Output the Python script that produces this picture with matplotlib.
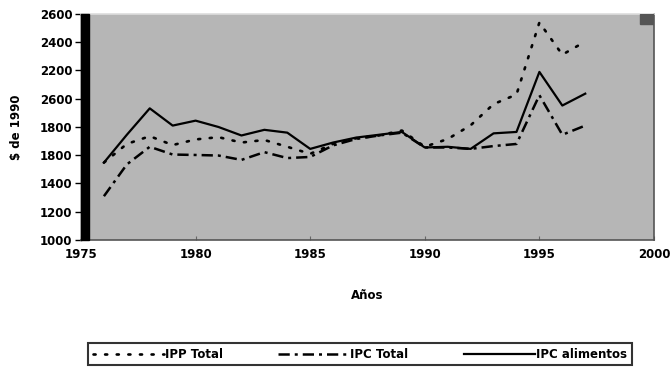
import numpy as np
import matplotlib
matplotlib.use("Agg")
import matplotlib.pyplot as plt
from matplotlib.patches import Rectangle

# annual series, $ de 1990
years = list(range(1976, 1998))
ipp_total = [1548, 1680, 1735, 1672, 1712, 1728, 1690, 1708, 1660, 1610, 1680,
             1720, 1740, 1775, 1660, 1715, 1812, 1962, 2030, 2540, 2312, 2405]
ipc_total = [1310, 1535, 1660, 1605, 1602, 1598, 1567, 1622, 1580, 1588, 1670,
             1715, 1740, 1760, 1655, 1655, 1645, 1665, 1680, 2025, 1745, 1810]
ipc_alimentos = [1548, 1745, 1932, 1810, 1845, 1800, 1740, 1780, 1760, 1645, 1690,
                 1725, 1745, 1765, 1655, 1660, 1645, 1755, 1765, 2190, 1952, 2036]

yticks = [1000, 1200, 1400, 1600, 1800, 2000, 2200, 2400, 2600]
# tick labels as printed in the source scan
ytick_labels = ["1000", "1200", "1400", "1800", "1800", "2600", "2200", "2400", "2600"]
xticks = [1975, 1980, 1985, 1990, 1995, 2000]

plt.rcParams['font.family'] = ['DejaVu Sans']
plt.rcParams['font.weight'] = 'bold'

fig = plt.figure(figsize=(6.72, 3.67), dpi=100)
ax = fig.add_axes([81/672, 1 - 240/367, (654 - 81)/672, (240 - 14)/367])
ax.set_facecolor('#b6b6b6')

ax.plot(years, ipp_total, color='black', lw=1.9, linestyle=(0, (0.8, 3.6)),
        dash_capstyle='round', label='IPP Total')
ax.plot(years, ipc_total, color='black', lw=1.8, linestyle=(0, (4.5, 2, 1.2, 2)),
        label='IPC Total')
ax.plot(years, ipc_alimentos, color='black', lw=1.6, linestyle='-',
        label='IPC alimentos')

ax.set_xlim(1975, 2000)
ax.set_ylim(1000, 2600)
ax.set_xticks(xticks)
ax.set_yticks(yticks)
ax.set_yticklabels(ytick_labels)
ax.tick_params(axis='y', direction='out', length=4, width=1, labelsize=8.5, pad=2)
ax.tick_params(axis='x', direction='in', length=3, width=0.8, color='#666666',
               labelsize=8.5, pad=6)

for s in ['top', 'right', 'bottom']:
    ax.spines[s].set_color('#555555')
    ax.spines[s].set_linewidth(1.2)
ax.spines['top'].set_color('#dddddd')
ax.spines['left'].set_linewidth(1)

# thick dark band along the left edge and small dark block in the corner
ax.add_patch(Rectangle((0, 0), 0.014, 1, transform=ax.transAxes,
                       color='black', zorder=3, clip_on=False))
ax.add_patch(Rectangle((0.975, 0.955), 0.025, 0.045, transform=ax.transAxes,
                       color='#555555', zorder=3))

ax.set_xlabel('Años', fontsize=8.5, fontweight='bold', labelpad=20)
ax.set_ylabel(r'\$ de 1990', fontsize=8.5, fontweight='bold', labelpad=12)

leg = fig.legend(loc='upper center', ncol=3, mode='expand',
                 bbox_to_anchor=(88/672, -0.1, (632 - 88)/672, 1 - 343/367 + 0.1),
                 fontsize=8.5, frameon=True, fancybox=False, edgecolor='black',
                 handlelength=6.0, handletextpad=0.1, borderaxespad=0)
leg.get_frame().set_linewidth(1.5)
for t in leg.get_texts():
    t.set_fontweight('bold')

fig.savefig('out.png', dpi=100, facecolor='white')
